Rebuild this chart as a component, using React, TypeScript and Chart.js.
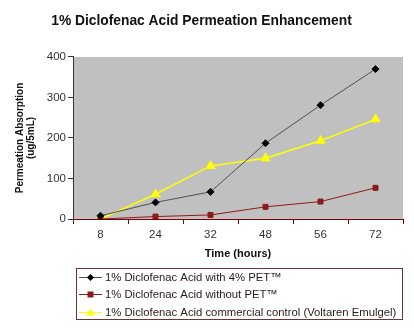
import React, { useEffect, useRef } from "react";
import { Chart, registerables } from "chart.js";

Chart.register(...registerables);

const titleText = "1% Diclofenac Acid Permeation Enhancement";
const categories = ["8", "24", "32", "48", "56", "72"];
const withPet = [8, 41, 67, 187, 281, 370];
const withoutPet = [0, 6, 10, 30, 43, 77];
const commercial = [0, 61, 131, 150, 193, 246];
const seriesNames = [
  "1% Diclofenac Acid with 4% PET\u2122",
  "1% Diclofenac Acid without PET\u2122",
  "1% Diclofenac Acid commercial control (Voltaren Emulgel)",
];
const yTicks = [0, 100, 200, 300, 400];

const bgPlugin = {
  id: "plotBg",
  beforeDraw(chart: any) {
    const { ctx, chartArea } = chart;
    ctx.save();
    ctx.fillStyle = "#c0c0c0";
    ctx.fillRect(chartArea.left, chartArea.top, chartArea.right - chartArea.left, chartArea.bottom - chartArea.top);
    ctx.restore();
  },
};

const legendPlugin = {
  id: "boxLegend",
  afterDraw(chart: any) {
    const { ctx } = chart;
    const x0 = 76, y0 = 268, x1 = 402, y1 = 319;
    ctx.save();
    ctx.strokeStyle = "#6e3535";
    ctx.lineWidth = 1;
    ctx.strokeRect(x0 + 0.5, y0 + 0.5, x1 - x0, y1 - y0);
    const rows = [277, 294, 312];
    chart.data.datasets.forEach((ds: any, i: number) => {
      const y = rows[i];
      ctx.strokeStyle = ds.borderColor;
      ctx.lineWidth = 1;
      ctx.beginPath();
      ctx.moveTo(79, y + 0.5);
      ctx.lineTo(102, y + 0.5);
      ctx.stroke();
      ctx.fillStyle = ds.pointBackgroundColor;
      const cx = 90.5, cy = y + 0.5;
      ctx.beginPath();
      if (ds.pointStyle === "rectRot") {
        ctx.moveTo(cx, cy - 3.5); ctx.lineTo(cx + 3.5, cy); ctx.lineTo(cx, cy + 3.5); ctx.lineTo(cx - 3.5, cy);
      } else if (ds.pointStyle === "rect") {
        ctx.rect(cx - 3, cy - 3, 6, 6);
      } else {
        ctx.moveTo(cx, cy - 4); ctx.lineTo(cx + 4, cy + 3); ctx.lineTo(cx - 4, cy + 3);
      }
      ctx.closePath();
      ctx.fill();
      ctx.fillStyle = "#2a1a1a";
      ctx.font = "11.3px 'Liberation Sans', Arial, sans-serif";
      ctx.textBaseline = "middle";
      ctx.textAlign = "left";
      ctx.fillText(ds.label, 105, y + 0.5);
    });
    ctx.restore();
  },
};

export default function App() {
  const ref = useRef<HTMLCanvasElement>(null);
  useEffect(() => {
    if (!ref.current) return;
    const chart = new Chart(ref.current, {
      type: "line",
      data: {
        labels: categories,
        datasets: [
          {
            label: seriesNames[0],
            data: withPet,
            borderColor: "#505050",
            borderWidth: 1,
            pointStyle: "rectRot",
            pointRadius: 3.5,
            pointBackgroundColor: "#000000",
            pointBorderColor: "#000000",
            tension: 0,
          },
          {
            label: seriesNames[1],
            data: withoutPet,
            borderColor: "#8b1a1a",
            borderWidth: 1,
            pointStyle: "rect",
            pointRadius: 3.5,
            pointBackgroundColor: "#8b1a1a",
            pointBorderColor: "#8b1a1a",
            tension: 0,
          },
          {
            label: seriesNames[2],
            data: commercial,
            borderColor: "#ffff00",
            borderWidth: 1.5,
            pointStyle: "triangle",
            pointRadius: 4.5,
            pointBackgroundColor: "#ffff00",
            pointBorderColor: "#ffff00",
            tension: 0,
          },
        ],
      } as any,
      options: {
        animation: false,
        responsive: false,
        maintainAspectRatio: false,
        layout: { padding: { left: 0, right: 11, top: 0, bottom: 69 } },
        plugins: {
          legend: { display: false },
          tooltip: { enabled: false },
          title: {
            display: true,
            text: titleText,
            color: "#111111",
            font: { family: "'Liberation Sans', Arial, sans-serif", size: 13.8, weight: "bold" },
            padding: { top: 12.7, bottom: 27.7 },
          },
        },
        scales: {
          x: {
            type: "category",
            offset: true,
            grid: { display: true, drawOnChartArea: false, offset: true, tickLength: 5, color: "#800000" },
            border: { color: "#800000", width: 1 },
            ticks: {
              color: "#333333",
              padding: 4,
              font: { family: "'Liberation Sans', Arial, sans-serif", size: 11.5 },
              maxRotation: 0,
            },
            title: {
              display: true,
              text: "Time (hours)",
              color: "#111111",
              font: { family: "'Liberation Sans', Arial, sans-serif", size: 11, weight: "bold" },
              padding: { top: 0, bottom: 2.4 },
            },
            afterFit(scale: any) { scale.height = 44; },
          },
          y: {
            min: 0,
            max: 400,
            afterBuildTicks(scale: any) { scale.ticks = yTicks.map((v) => ({ value: v })); },
            grid: { display: true, drawOnChartArea: false, tickLength: 5, color: "#333333" },
            border: { color: "#333333", width: 1 },
            ticks: {
              color: "#333333",
              padding: 2,
              font: { family: "'Liberation Sans', Arial, sans-serif", size: 11.5 },
            },
            title: {
              display: true,
              text: ["Permeation Absorption", "(ug/5mL)"],
              color: "#111111",
              font: { family: "'Liberation Sans', Arial, sans-serif", size: 10, weight: "bold", lineHeight: 1.1 },
              padding: { top: 15, bottom: 0 },
            },
            afterFit(scale: any) { scale.width = 73; },
          },
        },
      },
      plugins: [bgPlugin, legendPlugin],
    } as any);
    return () => chart.destroy();
  }, []);
  return (
    <div style={{ position: "absolute", left: 0, top: 0, width: 414, height: 332, background: "#ffffff" }}>
      <canvas ref={ref} width={414} height={332} style={{ width: 414, height: 332 }} />
    </div>
  );
}
